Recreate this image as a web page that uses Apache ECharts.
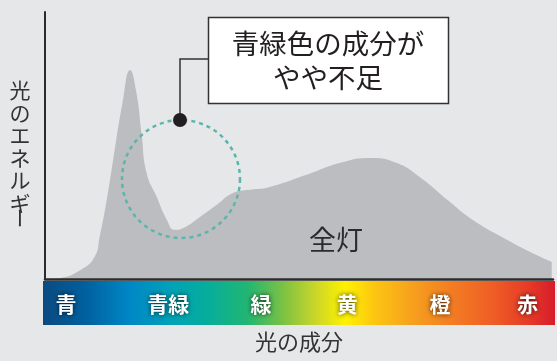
<!DOCTYPE html>
<html>
<head>
<meta charset="utf-8">
<script src="https://cdn.jsdelivr.net/npm/echarts@6/dist/echarts.min.js"></script>
<style>
html,body{margin:0;padding:0;background:#e6e7e9;}
#c{width:557px;height:361px;}
</style>
</head>
<body>
<div id="c"></div>
<script>
// wavelength (nm) and relative light energy
var wavelengths = [382, 392, 408, 419, 423, 429, 434, 441, 447, 452, 456, 460, 468, 476, 482, 489, 502, 515, 528, 539, 557, 586, 612, 636, 657, 675, 697, 717, 744, 762, 779];
var energy      = [0,   0.4, 3.4, 8.2, 15.7,30.7,45.7,65.9,78.3,69.7,54.7,39.7,30.7,22.1,18.4,19.1,23.2,27.7,32.2,33.3,34.5,39, 43.4,45.3,43.4,38.2,29.6,22.1,14.6,10.1,6.4];
// colour band labels along the x axis
var bandLabels    = ['青', '青緑', '緑', '黄', '橙', '赤'];
var bandPositions = [396.5, 477, 550, 618, 691, 760];
var seriesName = '全灯';
var yTitle = '光のエネルギ';
var yTitleEnd = 'ー';
var xTitle = '光の成分';
var calloutLines = ['青緑色の成分が', 'やや不足'];

var FONT = '"Noto Sans CJK JP", "Noto Sans", sans-serif';
var chart = echarts.init(document.getElementById('c'));

var pts = wavelengths.map(function (w, i) { return [w, energy[i]]; });

chart.setOption({
  backgroundColor: '#e6e7e9',
  animation: false,
  grid: { left: 45, right: 4, top: 12, bottom: 82 },
  xAxis: {
    type: 'value', min: 380, max: 780, z: 20,
    axisLine: { show: true, onZero: false, lineStyle: { color: '#2b2b2b', width: 2.5 } },
    axisTick: { show: false },
    splitLine: { show: false },
    axisLabel: {
      customValues: bandPositions,
      formatter: function (v) {
        var i = bandPositions.indexOf(v);
        return i >= 0 ? bandLabels[i] : '';
      },
      margin: 25,
      verticalAlign: 'middle',
      color: '#ffffff',
      fontFamily: FONT,
      fontSize: 21,
      fontWeight: 'bold',
      textShadowColor: 'rgba(0,0,0,0.75)',
      textShadowBlur: 5
    }
  },
  yAxis: {
    type: 'value', min: 0, max: 100,
    axisLine: { show: true, lineStyle: { color: '#2b2b2b', width: 2 } },
    axisTick: { show: false },
    axisLabel: { show: false },
    splitLine: { show: false }
  },
  series: [{
    name: seriesName,
    type: 'line',
    data: pts,
    smooth: 0.5,
    showSymbol: false,
    symbol: 'none',
    lineStyle: { width: 0, color: '#bcbdc0' },
    areaStyle: { color: '#bcbdc0', opacity: 1 },
    z: 2
  }],
  graphic: [
    {
      type: 'rect', z: 1,
      shape: { x: 43, y: 281, width: 512, height: 44 },
      style: {
        fill: new echarts.graphic.LinearGradient(0, 0, 1, 0, [
          { offset: 0.00, color: '#0b4a80' },
          { offset: 0.08, color: '#005f9e' },
          { offset: 0.17, color: '#0087c6' },
          { offset: 0.25, color: '#00a2b8' },
          { offset: 0.32, color: '#06ad9c' },
          { offset: 0.40, color: '#22b673' },
          { offset: 0.47, color: '#7cc243' },
          { offset: 0.53, color: '#c8d52a' },
          { offset: 0.59, color: '#fff200' },
          { offset: 0.65, color: '#fcc412' },
          { offset: 0.72, color: '#f7a11e' },
          { offset: 0.80, color: '#f37c23' },
          { offset: 0.88, color: '#ee5d25' },
          { offset: 0.95, color: '#e63a27' },
          { offset: 1.00, color: '#d71b2a' }
        ])
      }
    },
    {
      type: 'circle', z: 10,
      shape: { cx: 181, cy: 179, r: 59 },
      style: { fill: 'none', stroke: '#5bb5ad', lineWidth: 2.5, lineDash: [4, 4] }
    },
    {
      type: 'polyline', z: 10,
      shape: { points: [[208, 59], [180, 59], [180, 120]] },
      style: { fill: 'none', stroke: '#333333', lineWidth: 1.5 }
    },
    {
      type: 'circle', z: 11,
      shape: { cx: 180, cy: 120, r: 7 },
      style: { fill: '#231f20' }
    },
    {
      type: 'rect', z: 10,
      shape: { x: 208.5, y: 17.5, width: 240, height: 86 },
      style: { fill: '#ffffff', stroke: '#333333', lineWidth: 1.5 }
    },
    {
      type: 'text', z: 12, x: 328, y: 44,
      style: { text: calloutLines[0], fontSize: 27.5, fontFamily: FONT, fill: '#231f20', align: 'center', verticalAlign: 'middle' }
    },
    {
      type: 'text', z: 12, x: 328, y: 78,
      style: { text: calloutLines[1], fontSize: 27.5, fontFamily: FONT, fill: '#231f20', align: 'center', verticalAlign: 'middle' }
    },
    {
      type: 'text', z: 12, x: 336, y: 240,
      style: { text: seriesName, fontSize: 27, fontFamily: FONT, fill: '#2b2b2b', align: 'center', verticalAlign: 'middle' }
    },
    {
      type: 'text', z: 12, x: 20, y: 79,
      style: { text: yTitle.split('').join('\n'), fontSize: 21, lineHeight: 22.5, fontFamily: FONT, fill: '#333333', align: 'center', verticalAlign: 'top' }
    },
    {
      type: 'text', z: 12, x: 20, y: 218, rotation: -Math.PI / 2,
      style: { text: yTitleEnd, fontSize: 21, fontFamily: FONT, fill: '#333333', align: 'center', verticalAlign: 'middle' }
    },
    {
      type: 'text', z: 12, x: 299, y: 342,
      style: { text: xTitle, fontSize: 22, fontFamily: FONT, fill: '#333333', align: 'center', verticalAlign: 'middle' }
    }
  ]
});
</script>
</body>
</html>
